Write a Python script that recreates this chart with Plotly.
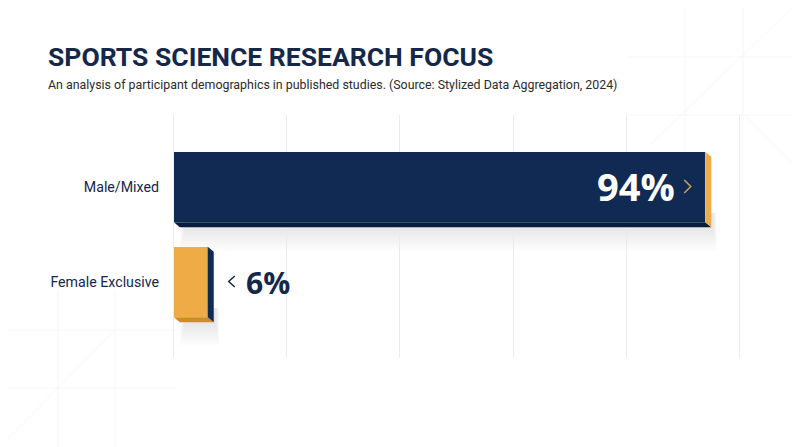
import plotly.graph_objects as go

# data
categories = ["Female Exclusive", "Male/Mixed"]
values = [6, 94]
value_labels = ["6%", "94%"]
grid_ticks = [0, 20, 40, 60, 80, 100]

NAVY = "#112a54"
NAVY_DARK = "#0a1c3b"
GOLD = "#efab45"
GOLD_DARK = "#cf8a2c"
TEXT = "#15284a"

W, H = 800, 447
OFF = 8  # page body margin shifts the figure by 8px
# plot area as seen in the picture: x ~171..742, y 115..358
L, T = 171 - OFF, 115 - OFF
R, B = W - (742 - OFF), H - (358 - OFF)
PW, PH = W - L - R, H - T - B

X_RANGE = [-0.5, 100.5]
# y range chosen so the bars sit where they do in the picture
Y_RANGE = [-0.8, 1.758]
BAR_W = 0.74
# 3d extrusion, in pixels
EX_DX, EX_DY = 6, 5


def px_x(p):
    # p = screen pixel in the picture
    return (p - OFF - L) / PW


def px_y(p):
    return (T + PH - (p - OFF)) / PH


dx_units = EX_DX / PW * (X_RANGE[1] - X_RANGE[0])
dy_units = EX_DY / PH * (Y_RANGE[1] - Y_RANGE[0])
px_yu = (Y_RANGE[1] - Y_RANGE[0]) / PH

front_colors = [GOLD, NAVY]
side_colors = [NAVY, GOLD]
bottom_colors = [GOLD_DARK, NAVY_DARK]

fig = go.Figure()
fig.add_trace(go.Bar(
    y=list(range(len(categories))),
    x=values,
    orientation="h",
    width=BAR_W,
    marker=dict(color=front_colors, line=dict(width=0)),
    hoverinfo="skip",
    showlegend=False,
))

shapes = []
# soft shadows under the bars
for i, v in enumerate(values):
    bot = i - BAR_W / 2
    for k in range(12):
        spread = (k + 1) * 2 * px_yu
        inset = (12 - k) * 0.25
        shapes.append(dict(
            type="rect", xref="x", yref="y", layer="below",
            x0=1 + inset * 0.3, x1=v + dx_units * 2 - inset * 0.2,
            y0=bot - dy_units - spread, y1=bot + 0.1,
            fillcolor="rgba(30,30,50,0.009)", line=dict(width=0),
        ))

# extruded side and bottom faces
for i, v in enumerate(values):
    top = i + BAR_W / 2
    bot = i - BAR_W / 2
    side = (f"M {v} {top} L {v + dx_units} {top - dy_units} "
            f"L {v + dx_units} {bot - dy_units} L {v} {bot} Z")
    bottom = (f"M 0 {bot} L {v} {bot} L {v + dx_units} {bot - dy_units} "
              f"L {dx_units} {bot - dy_units} Z")
    shapes.append(dict(type="path", xref="x", yref="y", path=bottom,
                       fillcolor=bottom_colors[i], line=dict(width=0)))
    shapes.append(dict(type="path", xref="x", yref="y", path=side,
                       fillcolor=side_colors[i], line=dict(width=0)))

# thin chevrons next to the value labels (pixel offsets from the bar end)
for i, v in enumerate(values):
    if v > 50:
        path = "M -21 6.5 L -14.5 0 L -21 -6.5"
        col = "#c9a062"
    else:
        path = "M 27 5.5 L 21 0 L 27 -5.5"
        col = TEXT
    shapes.append(dict(type="path", xref="x", yref="y", xsizemode="pixel",
                       ysizemode="pixel", xanchor=v, yanchor=i + 0.5 * px_yu,
                       path=path, line=dict(color=col, width=1.5)))

# faint decorative grid in the corners
deco = "rgba(0,0,0,0.03)"
deco_lines = [
    (685, 0, 685, 200), (743, 0, 743, 200), (628, 57, 800, 57), (628, 115, 800, 115),
    (800, 0, 650, 145), (745, 115, 800, 170),
    (58, 290, 58, 447), (115, 290, 115, 447), (0, 330, 175, 330), (0, 388, 175, 388),
    (0, 447, 115, 330),
]
for x0, y0, x1, y1 in deco_lines:
    shapes.append(dict(type="line", xref="paper", yref="paper", layer="below",
                       x0=px_x(x0), y0=px_y(y0), x1=px_x(x1), y1=px_y(y1),
                       line=dict(color=deco, width=1)))

annotations = [
    dict(text="<b>SPORTS SCIENCE RESEARCH FOCUS</b>", xref="paper", yref="paper",
         x=px_x(46), y=px_y(56), xanchor="left", yanchor="middle", showarrow=False,
         font=dict(family="Roboto", size=26.5, color=TEXT)),
    dict(text="An analysis of participant demographics in published studies. "
              "(Source: Stylized Data Aggregation, 2024)",
         xref="paper", yref="paper", x=px_x(46), y=px_y(85), xanchor="left",
         yanchor="middle", showarrow=False,
         font=dict(family="Roboto", size=12.4, color="#2b2b2b")),
]

for i, (v, lab) in enumerate(zip(values, value_labels)):
    if v > 50:
        annotations.append(dict(text=f"<b>{lab}</b>", x=v, y=i, xref="x", yref="y",
                                xanchor="right", yanchor="middle", xshift=-28, yshift=1,
                                showarrow=False,
                                font=dict(family="Open Sans", size=38, color="white")))
    else:
        annotations.append(dict(text=f"<b>{lab}</b>", x=v, y=i, xref="x", yref="y",
                                xanchor="left", yanchor="middle", xshift=36, yshift=0,
                                showarrow=False,
                                font=dict(family="Open Sans", size=30, color=TEXT)))

fig.update_layout(
    width=W, height=H,
    margin=dict(l=L, r=R, t=T, b=B),
    paper_bgcolor="white",
    plot_bgcolor="rgba(0,0,0,0)",
    xaxis=dict(range=X_RANGE, tickvals=grid_ticks, showticklabels=False,
               showgrid=True, gridcolor="#ebebeb", gridwidth=1, zeroline=False,
               showline=False, fixedrange=True),
    yaxis=dict(range=Y_RANGE, tickvals=list(range(len(categories))), ticktext=categories,
               showgrid=False, zeroline=False, showline=False, ticks="",
               ticklabelstandoff=11,
               tickfont=dict(family="Roboto", size=14.2, color=TEXT), fixedrange=True),
    shapes=shapes,
    annotations=annotations,
    bargap=0,
)

fig.write_html("out.html")
